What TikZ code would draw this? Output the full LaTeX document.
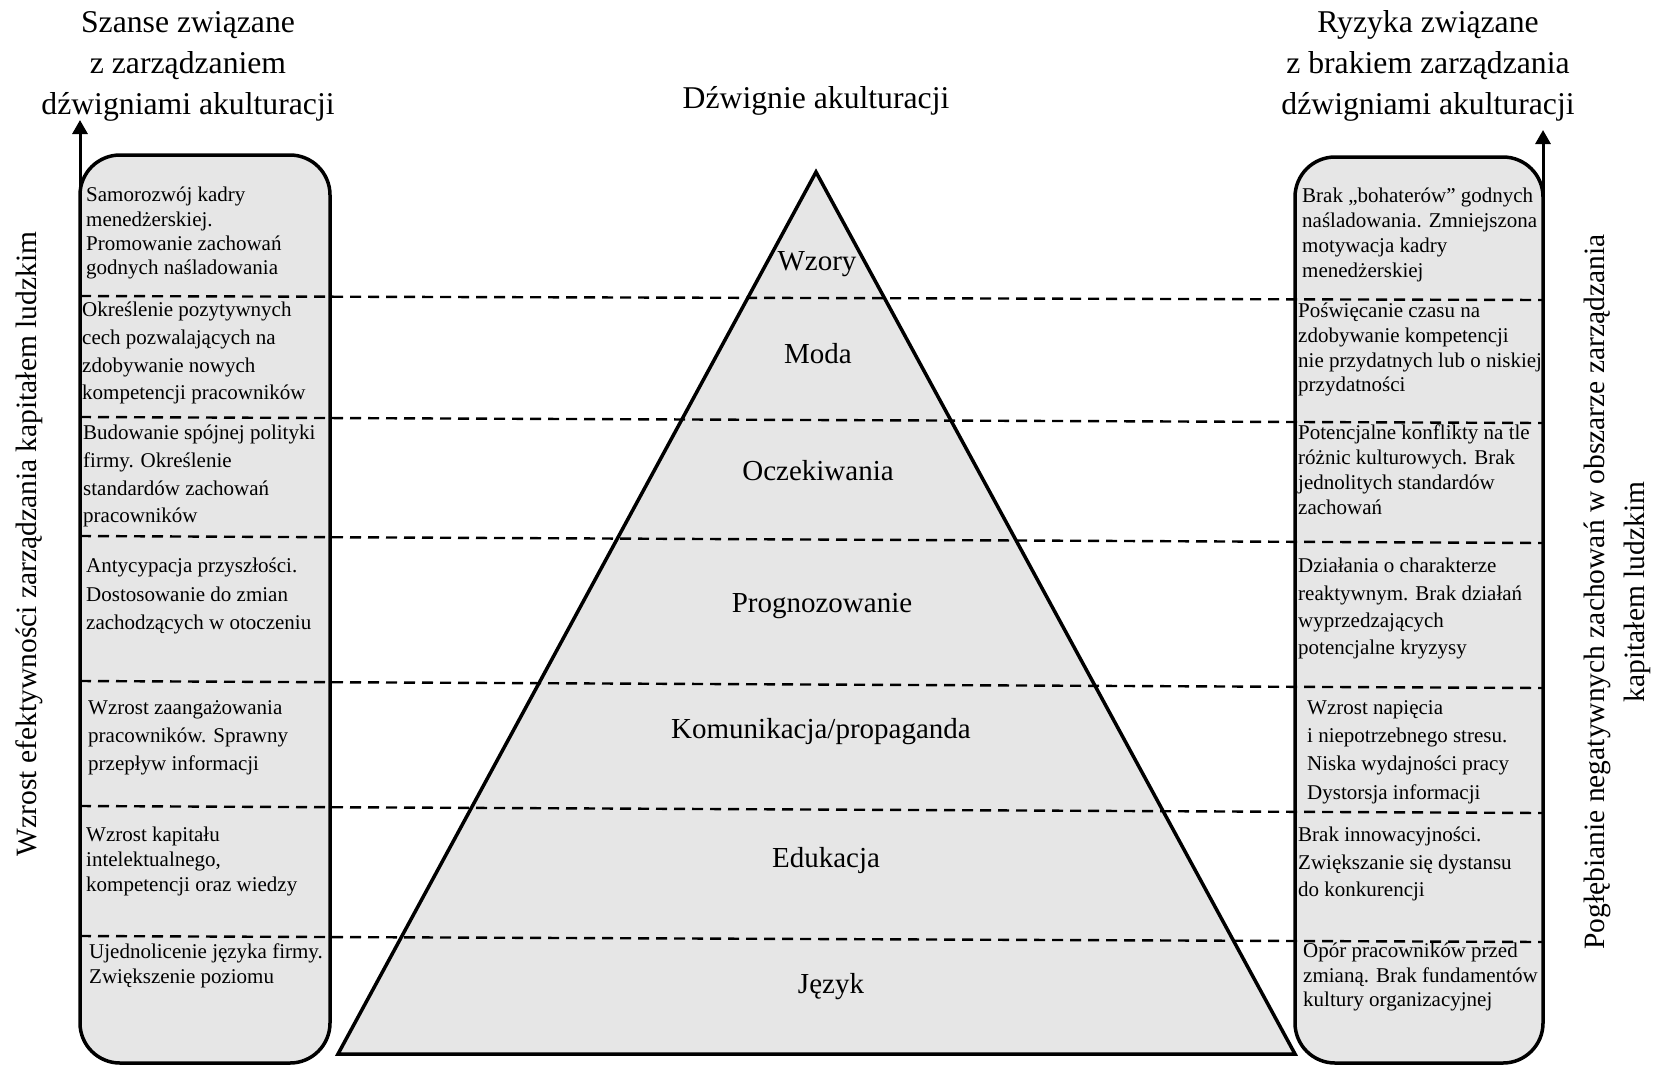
\documentclass[tikz,border=0pt]{standalone}
\usepackage{fontspec}
\setmainfont{Liberation Serif}
\usetikzlibrary{arrows.meta}
\definecolor{fillgray}{RGB}{230,230,230}
\begin{document}
\begin{tikzpicture}[x=1pt,y=-1pt,
  panel/.style={draw, line width=3.5pt, fill=fillgray, rounded corners=40pt, inner sep=0pt, outer sep=0pt},
  pyramid/.style={draw, line width=3.5pt, fill=fillgray, line join=miter},
  levelline/.style={line width=2.4pt, dash pattern=on 11pt off 7pt},
  arrowaxis/.style={line width=3pt, -{Triangle[length=14pt,width=15pt]}},
  boxtxt/.style={anchor=north west, align=left, inner sep=0pt, font=\fontsize{21}{#1}\selectfont},
  boxtxt/.default=25,
  lvl/.style={anchor=base, inner sep=0pt, font=\fontsize{29}{35}\selectfont},
  headtxt/.style={anchor=north, align=center, inner sep=0pt, font=\fontsize{31.7}{41}\selectfont},
  sidetxt/.style={rotate=90, align=center, inner sep=0pt, font=\fontsize{29.5}{40}\selectfont}
]
\useasboundingbox (0,0) rectangle (1656,1066);

% side panels
\node[panel, minimum width=250pt, minimum height=908pt] (lbox) at (205,609) {};
\node[panel, minimum width=248pt, minimum height=906pt] (rbox) at (1419,610) {};

% pyramid
\coordinate (apex) at (816,172);
\coordinate (bl) at (338,1054);
\coordinate (br) at (1295,1054);
\draw[pyramid] (apex) -- (bl) -- (br) -- cycle;

% dashed level lines
\foreach \i/\a/\b in {1/296/300, 2/417/423, 3/536/543, 4/681/688, 5/806/813, 6/936/942} {
  \coordinate (L\i) at (80,\a);
  \coordinate (R\i) at (1543,\b);
  \draw[levelline] (L\i) -- (R\i);
}

% axes
\coordinate (ltip) at (80,120);
\coordinate (rtip) at (1543,130);
\draw[arrowaxis] (lbox.west) -- (ltip);
\draw[arrowaxis] (rbox.east) -- (rtip);

% headings
\node[headtxt] (tl) at (188,11) {Szanse związane\\z zarządzaniem\\dźwigniami akulturacji};
\node[headtxt] (tr) at (1428,10) {Ryzyka związane\\z brakiem zarządzania\\dźwigniami akulturacji};
\node[anchor=base, inner sep=0pt, font=\fontsize{31.7}{41}\selectfont] (tc) at (816,108) {Dźwignie akulturacji};

% side labels
\node[sidetxt] (vl) at (29,544) {Wzrost efektywności zarządzania kapitałem ludzkim};
\node[sidetxt] (vr) at (1617,592) {Pogłębianie negatywnych zachowań w obszarze zarządzania\\kapitałem ludzkim};

% pyramid labels
\node[lvl] (p1) at (817,270) {Wzory};
\node[lvl] (p2) at (818,363) {Moda};
\node[lvl] (p3) at (818,480) {Oczekiwania};
\node[lvl] (p4) at (822,612) {Prognozowanie};
\node[lvl] (p5) at (821,738) {Komunikacja/propaganda};
\node[lvl] (p6) at (826,867) {Edukacja};
\node[lvl] (p7) at (831,993) {Język};

% left texts
\node[boxtxt=24.3] (l1) at (86,187) {Samorozwój kadry\\menedżerskiej.\\Promowanie zachowań\\godnych naśladowania};
\node[boxtxt=27.7] (l2) at (82,302) {Określenie pozytywnych\\cech pozwalających na\\zdobywanie nowych\\kompetencji pracowników};
\node[boxtxt=27.7] (l3) at (83,425) {Budowanie spójnej polityki\\firmy. Określenie\\standardów zachowań\\pracowników};
\node[boxtxt=28.5] (l4) at (86,558) {Antycypacja przyszłości.\\Dostosowanie do zmian\\zachodzących w otoczeniu};
\node[boxtxt=28] (l5) at (88,700) {Wzrost zaangażowania\\pracowników. Sprawny\\przepływ informacji};
\node[boxtxt=25] (l6) at (86,827) {Wzrost kapitału\\intelektualnego,\\kompetencji oraz wiedzy};
\node[boxtxt=25] (l7) at (89,943) {Ujednolicenie języka firmy.\\Zwiększenie poziomu};

% right texts
\node[boxtxt=25] (r1) at (1302,188) {Brak „bohaterów” godnych\\naśladowania. Zmniejszona\\motywacja kadry\\menedżerskiej};
\node[boxtxt=24.7] (r2) at (1298,303) {Poświęcanie czasu na\\zdobywanie kompetencji\\nie przydatnych lub o niskiej\\przydatności};
\node[boxtxt=24.7] (r3) at (1298,425) {Potencjalne konflikty na tle\\różnic kulturowych. Brak\\jednolitych standardów\\zachowań};
\node[boxtxt=27.3] (r4) at (1298,558) {Działania o charakterze\\reaktywnym. Brak działań\\wyprzedzających\\potencjalne kryzysy};
\node[boxtxt=28.3] (r5) at (1307,700) {Wzrost napięcia\\i niepotrzebnego stresu.\\Niska wydajności pracy\\Dystorsja informacji};
\node[boxtxt=27.5] (r6) at (1298,827) {Brak innowacyjności.\\Zwiększanie się dystansu\\do konkurencji};
\node[boxtxt=24.5] (r7) at (1303,943) {Opór pracowników przed\\zmianą. Brak fundamentów\\kultury organizacyjnej};
\end{tikzpicture}
\end{document}
